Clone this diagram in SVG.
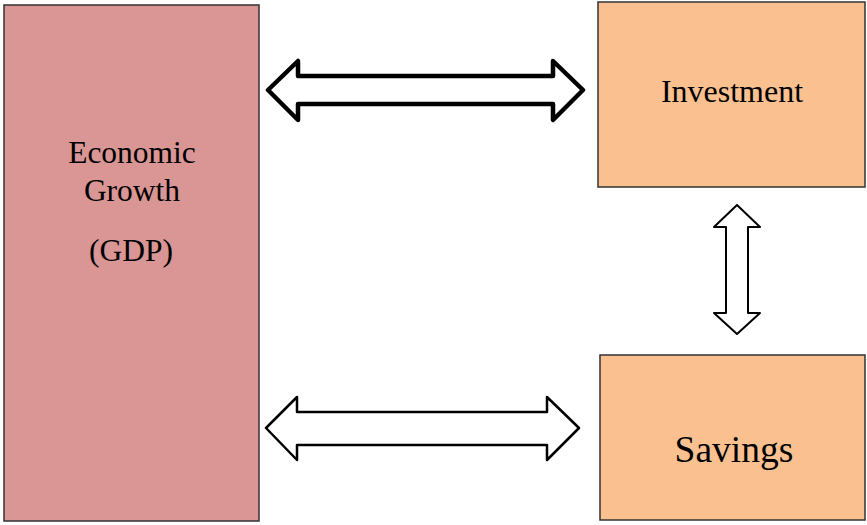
<svg xmlns="http://www.w3.org/2000/svg" width="867" height="525" viewBox="0 0 867 525">
<style>
.box{stroke:#333;stroke-width:1.5}
.gdp{fill:#D99694}
.org{fill:#FAC090}
.t{font-family:"Liberation Serif","Times New Roman",serif;fill:#000;text-anchor:middle}
.arr{fill:#fff;stroke:#000;stroke-linejoin:round}
</style>
<rect width="867" height="525" fill="#fff"/>
<g id="connectors">
<path class="arr" stroke-width="4.5" d="M268,90 L298,61 L298,76 L553,76 L553,61 L583,90 L553,120 L553,104 L298,104 L298,120 Z"/>
<path class="arr" stroke-width="2.5" stroke-linejoin="miter" d="M266,428 L297,397 L297,412 L547,412 L547,397 L579,428 L547,460 L547,445 L297,445 L297,460 Z"/>
<path class="arr" stroke-width="2" stroke-linejoin="miter" d="M737,205 L760,227 L748,227 L748,313 L760,313 L737,334 L714,313 L726,313 L726,227 L714,227 Z"/>
</g>
<g id="gdp">
<rect class="box gdp" x="4" y="5" width="255" height="516"/>
<text class="t" x="132" y="163" font-size="31.5">Economic</text>
<text class="t" x="132" y="201" font-size="31.5">Growth</text>
<text class="t" x="131" y="261" font-size="31.5">(GDP)</text>
</g>
<g id="investment">
<rect class="box org" x="598" y="2" width="267" height="185"/>
<text class="t" x="732" y="102" font-size="32">Investment</text>
</g>
<g id="savings">
<rect class="box org" x="600" y="355" width="265" height="165"/>
<text class="t" x="734" y="462" font-size="37.5">Savings</text>
</g>
</svg>
